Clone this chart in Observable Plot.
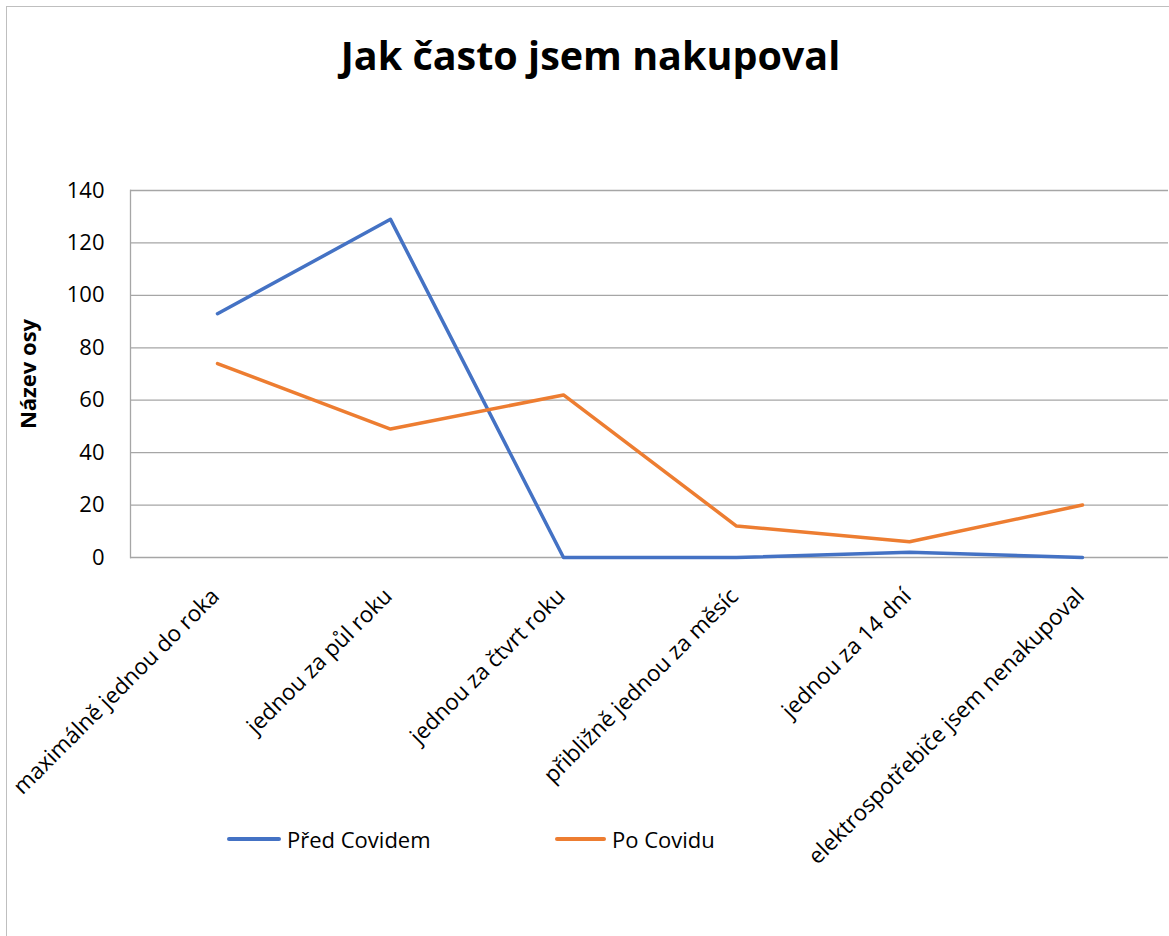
<!DOCTYPE html>
<html>
<head>
<meta charset="utf-8">
<script src="https://cdn.jsdelivr.net/npm/d3@7"></script>
<script src="https://cdn.jsdelivr.net/npm/@observablehq/plot@0.6"></script>
<style>
  html, body { margin: 0; padding: 0; background: #fff; }
  #wrap { position: relative; width: 1169px; height: 936px; overflow: hidden; font-family: "Open Sans", sans-serif; color: #000; }
  #border { position: absolute; left: 6px; top: 6px; width: 2000px; height: 2000px; border-left: 1.5px solid #bfbfbf; border-top: 1.5px solid #bfbfbf; }
  #title { position: absolute; left: 6px; top: 35px; width: 1169px; text-align: center; font-weight: bold; font-size: 39.5px; line-height: 40px; }
  #chart { position: absolute; left: 0; top: 0; }
  #legend { position: absolute; top: 825px; left: 0; height: 28px; width: 1169px; font-size: 22px; }
  .item { position: absolute; top: 0; height: 28px; display: flex; align-items: center; }
  .swatch { display: inline-block; height: 3.5px; border-radius: 2px; margin-right: 6px; }
</style>
</head>
<body>
<div id="wrap">
  <div id="border"></div>
  <div id="title"></div>
  <div id="chart"></div>
  <div id="legend"></div>
</div>
<script>
const titleText = "Jak často jsem nakupoval";
const yAxisTitle = "Název osy";
const categories = [
  "maximálně jednou do roka",
  "jednou za půl roku",
  "jednou za čtvrt roku",
  "přibližně jednou za měsíc",
  "jednou za 14 dní",
  "elektrospotřebiče jsem nenakupoval"
];
const seriesNames = ["Před Covidem", "Po Covidu"];
const predCovidem = [93, 129, 0, 0, 2, 0];
const poCovidu = [74, 49, 62, 12, 6, 20];
const yTicks = [0, 20, 40, 60, 80, 100, 120, 140];
const seriesColors = ["#4472C4", "#ED7D31"];

const data = categories.flatMap((c, i) => [
  { category: c, series: seriesNames[0], value: predCovidem[i] },
  { category: c, series: seriesNames[1], value: poCovidu[i] }
]);

document.getElementById("title").textContent = titleText;

const chart = Plot.plot({
  width: 1169,
  height: 936,
  marginLeft: 130,
  marginRight: 1,
  marginTop: 190,
  marginBottom: 379,
  style: { fontFamily: "Open Sans", fontSize: "22px", color: "#000", background: "transparent", overflow: "visible" },
  x: { type: "point", domain: categories, padding: 0.5, axis: null },
  y: { domain: [0, 140], axis: null },
  color: { domain: seriesNames, range: seriesColors },
  marks: [
    Plot.gridY(yTicks, { stroke: "#a6a6a6", strokeOpacity: 1, strokeWidth: 1.3 }),
    Plot.frame({ anchor: "left", stroke: "#a6a6a6", strokeWidth: 1.3 }),
    Plot.axisY(yTicks, { tickSize: 0, tickPadding: 26, fontSize: 22, label: null }),
    Plot.text(categories, {
      x: d => d, frameAnchor: "bottom", rotate: -45, textAnchor: "end",
      lineAnchor: "middle", dx: -2, dy: 35, fontSize: 22.4, fill: "#000"
    }),
    Plot.text([yAxisTitle], {
      frameAnchor: "left", textAnchor: "middle", rotate: -90, dx: -102,
      fontWeight: "bold", fontSize: 22, fill: "#000"
    }),
    Plot.line(data, {
      x: "category", y: "value", z: "series", stroke: "series",
      strokeWidth: 3.5, strokeLinecap: "round", strokeLinejoin: "round"
    })
  ]
});
document.getElementById("chart").appendChild(chart);

const legend = document.getElementById("legend");
const legendPos = [{ left: 227, w: 54 }, { left: 555, w: 51 }];
seriesNames.forEach((name, i) => {
  const item = document.createElement("div");
  item.className = "item";
  item.style.left = legendPos[i].left + "px";
  const sw = document.createElement("span");
  sw.className = "swatch";
  sw.style.width = legendPos[i].w + "px";
  sw.style.background = seriesColors[i];
  const tx = document.createElement("span");
  tx.textContent = name;
  item.appendChild(sw);
  item.appendChild(tx);
  legend.appendChild(item);
});
</script>
</body>
</html>
